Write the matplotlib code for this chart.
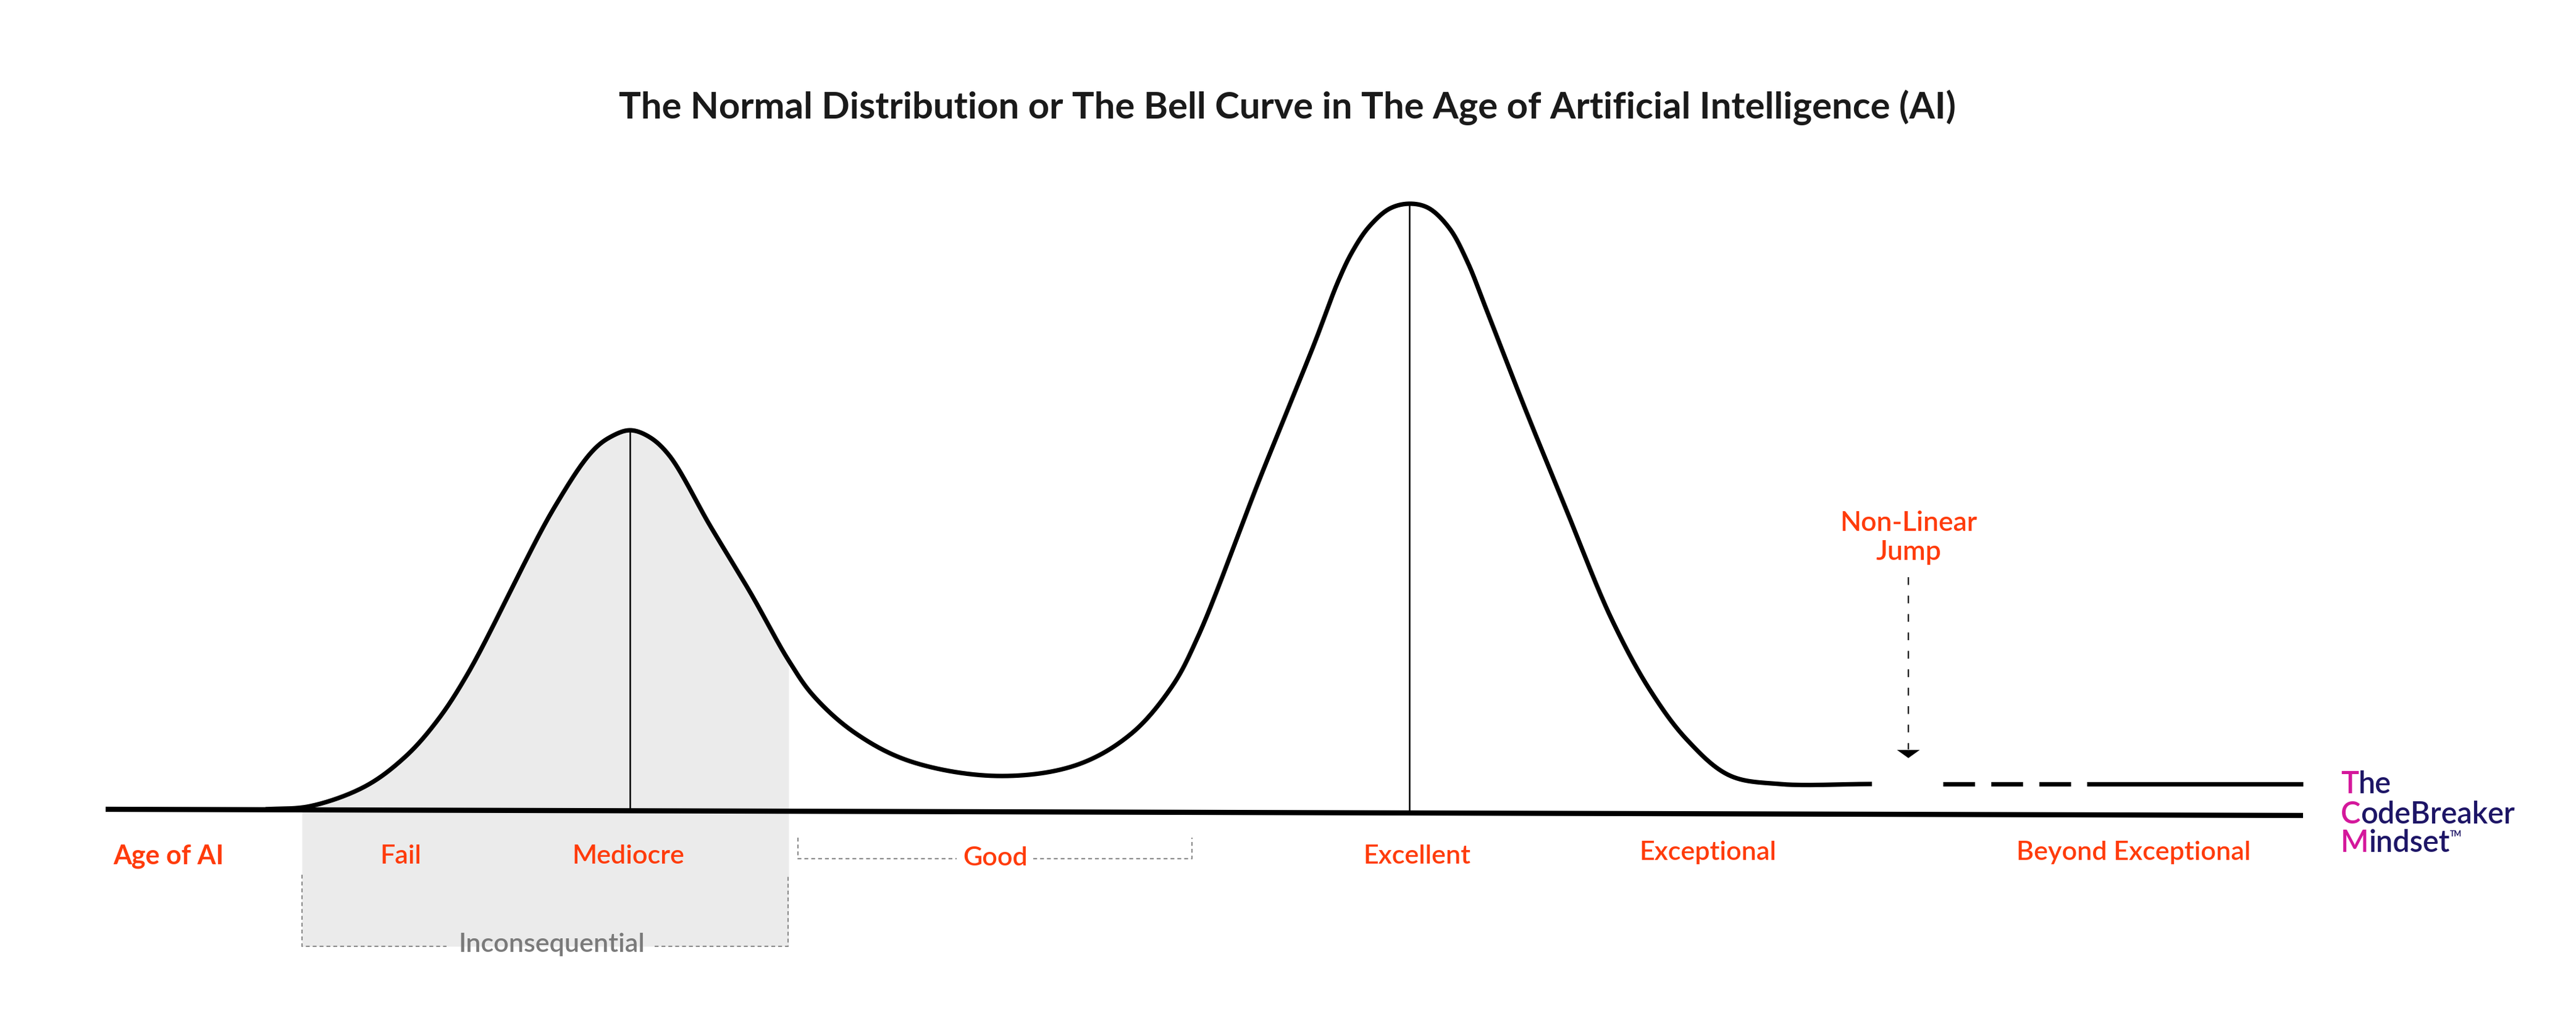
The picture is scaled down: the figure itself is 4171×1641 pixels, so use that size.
import numpy as np
import matplotlib
matplotlib.use("Agg")
import matplotlib.pyplot as plt

plt.rcParams['font.family'] = ['Lato', 'DejaVu Sans']
plt.rcParams['lines.scale_dashes'] = False

# points (x, y in picture pixels, y grows downward)
curve_x = [430, 502, 591, 655, 706, 757, 897, 960, 990, 1020, 1050, 1083, 1150,
           1215, 1277, 1317, 1384, 1473, 1614, 1741, 1830, 1897, 1939, 2040, 2128,
           2167, 2190, 2217, 2250, 2282, 2313, 2347, 2376, 2405, 2467, 2533, 2610,
           2673, 2733, 2800, 2880, 3031]
curve_y = [1311, 1306, 1274, 1227, 1170, 1092, 823, 730, 707, 697, 707, 737, 852,
           960, 1070, 1127, 1187, 1233, 1257, 1240, 1190, 1113, 1033, 775, 557,
           455, 407, 367, 338, 330, 337, 370, 424, 497, 656, 818, 1004,
           1120, 1200, 1256, 1270, 1270]

# baseline ends, plateau beyond the jump
base_x = [171, 3729]
base_y = [1311, 1321]
plateau_y = 1270

labels = ['Age of AI', 'Fail', 'Mediocre', 'Good', 'Excellent', 'Exceptional', 'Beyond Exceptional']
label_x = [273, 649, 1017, 1612, 2294, 2765, 3455]
label_y = [1387, 1387, 1387, 1390, 1387, 1381, 1381]

mediocre_x = 1020
excellent_x = 2282
jump_x = 3090

title = 'The Normal Distribution or The Bell Curve in The Age of Artificial Intelligence (AI)'
orange = '#ff3b0a'
grey = '#8a8a8a'


def smooth(px, py, n=30):
    # centripetal catmull-rom through the read points
    P = np.column_stack([px, py]).astype(float)
    P = np.vstack([2 * P[0] - P[1], P, 2 * P[-1] - P[-2]])
    out = []
    for i in range(len(P) - 3):
        p0, p1, p2, p3 = P[i:i + 4]
        t0 = 0.0
        t1 = t0 + np.linalg.norm(p1 - p0) ** 0.5
        t2 = t1 + np.linalg.norm(p2 - p1) ** 0.5
        t3 = t2 + np.linalg.norm(p3 - p2) ** 0.5
        t = np.linspace(t1, t2, n, endpoint=False)[:, None]
        a1 = (t1 - t) / (t1 - t0) * p0 + (t - t0) / (t1 - t0) * p1
        a2 = (t2 - t) / (t2 - t1) * p1 + (t - t1) / (t2 - t1) * p2
        a3 = (t3 - t) / (t3 - t2) * p2 + (t - t2) / (t3 - t2) * p3
        b1 = (t2 - t) / (t2 - t0) * a1 + (t - t0) / (t2 - t0) * a2
        b2 = (t3 - t) / (t3 - t1) * a2 + (t - t1) / (t3 - t1) * a3
        out.append((t2 - t) / (t2 - t1) * b1 + (t - t1) / (t2 - t1) * b2)
    out.append(P[-2][None])
    return np.vstack(out)


fig = plt.figure(figsize=(41.71, 16.41), dpi=100)
ax = fig.add_axes([0, 0, 1, 1])
ax.set_xlim(0, 4171)
ax.set_ylim(1641, 0)
ax.axis('off')

c = smooth(curve_x, curve_y)
sx, sy = c[:, 0], c[:, 1]

# grey "inconsequential" zone under the first bump
fx = np.linspace(489, 1277, 400)
ax.fill_between(fx, np.interp(fx, sx, sy), 1533, color='#ebebeb', lw=0, zorder=1)

# thin lines at the peaks
ax.plot([mediocre_x, mediocre_x], [1312, np.interp(mediocre_x, sx, sy)], color='black', lw=1.8, zorder=2)
ax.plot([excellent_x, excellent_x], [1316, np.interp(excellent_x, sx, sy)], color='black', lw=1.8, zorder=2)

ax.plot(base_x, base_y, color='black', lw=6, solid_capstyle='butt', zorder=3)
ax.plot(sx, sy, color='black', lw=5.2, solid_capstyle='butt', solid_joinstyle='round', zorder=3)

# plateau after the non-linear jump
ax.plot([3146, 3372], [plateau_y, plateau_y], color='black', lw=5.2, ls=(0, (37, 19)),
        dash_capstyle='butt', zorder=3)
ax.plot([3379, 3729], [plateau_y, plateau_y], color='black', lw=5.2, solid_capstyle='butt', zorder=3)

# jump arrow
ax.plot([jump_x, jump_x], [935, 1214], color='black', lw=1.6, ls=(0, (9, 12.5)), zorder=3)
ax.annotate('', xy=(jump_x, 1228), xytext=(jump_x, 1212),
            arrowprops=dict(arrowstyle='-|>,head_length=0.5,head_width=0.7', mutation_scale=19,
                            lw=0, color='black', shrinkA=0, shrinkB=0))
ax.text(jump_x, 871, 'Non-Linear\nJump', color=orange, fontsize=32, ha='center', va='center',
        linespacing=1.2, fontweight='semibold')

# dotted brackets
dots = dict(color=grey, lw=1.5, ls=(0, (4.5, 3.5)))
ax.plot([1292, 1292, 1549], [1357, 1391, 1391], **dots)
ax.plot([1673, 1930, 1930], [1391, 1391, 1357], **dots)
ax.plot([489, 489, 723], [1417, 1533, 1533], **dots)
ax.plot([1060, 1276, 1276], [1533, 1533, 1417], **dots)
ax.text(893, 1530, 'Inconsequential', color='#7a7a7a', fontsize=31, ha='center', va='center',
        fontweight='semibold')

for i, lab in enumerate(labels):
    ax.text(label_x[i], label_y[i], lab, color=orange, fontsize=31, ha='center', va='center',
            fontweight='bold' if i == 0 else 'semibold')

ax.text(2085, 174, title, color='#1a1a1a', fontsize=43, ha='center', va='center', fontweight='bold')

# logo
magenta = '#d4179b'
navy = '#1d1566'
for word, y in [('The', 1271), ('CodeBreaker', 1320), ('Mindset', 1366)]:
    t0 = ax.text(3790, y, word[0], color=magenta, fontsize=35, ha='left', va='center', fontweight='semibold')
    t1 = ax.annotate(word[1:], xy=(1, 0), xycoords=t0, va='bottom', ha='left', color=navy,
                     fontsize=35, fontweight='semibold')
    if word == 'Mindset':
        ax.annotate('TM', xy=(1, 0.7), xycoords=t1, va='bottom', ha='left', color=navy,
                    fontsize=9, fontweight='bold')

fig.savefig('out.png', dpi=100, facecolor='white')
